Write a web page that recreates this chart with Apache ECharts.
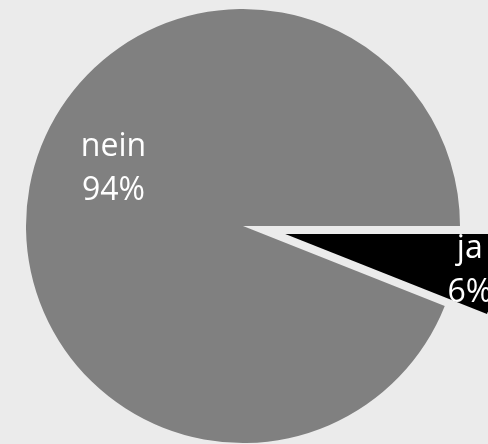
<!DOCTYPE html>
<html>
<head>
<meta charset="utf-8">
<script src="https://cdn.jsdelivr.net/npm/echarts@6/dist/echarts.min.js"></script>
<style>
html,body{margin:0;padding:0;background:#ebebeb;}
#chart{width:488px;height:444px;}
</style>
</head>
<body>
<div id="chart"></div>
<script>
const categories = ['ja', 'nein'];
const values = [6, 94];
const colors = ['#000000', '#808080'];
const explodedCategory = 'ja';

const labelShift = { ja: [75, 16], nein: [-20, -36] };

const chart = echarts.init(document.getElementById('chart'), null, { renderer: 'canvas' });
chart.setOption({
  backgroundColor: '#ebebeb',
  animation: false,
  series: [{
    type: 'pie',
    center: [243, 226],
    radius: [0, 217],
    startAngle: 0,
    clockwise: true,
    selectedMode: 'single',
    selectedOffset: 43,
    avoidLabelOverlap: false,
    emphasis: { disabled: true },
    label: {
      show: true,
      position: 'inside',
      formatter: p => p.name + '\n' + Math.round(p.percent) + '%',
      color: '#ffffff',
      fontFamily: 'Open Sans',
      fontSize: 32,
      lineHeight: 44,
      align: 'center'
    },
    labelLine: { show: false },
    labelLayout: function (params) {
      const name = categories[params.dataIndex];
      const s = labelShift[name];
      return { dx: s[0], dy: s[1] };
    },
    itemStyle: { borderWidth: 0 },
    data: categories.map((c, i) => ({
      name: c,
      value: values[i],
      selected: c === explodedCategory,
      itemStyle: { color: colors[i] }
    }))
  }]
});
</script>
</body>
</html>
